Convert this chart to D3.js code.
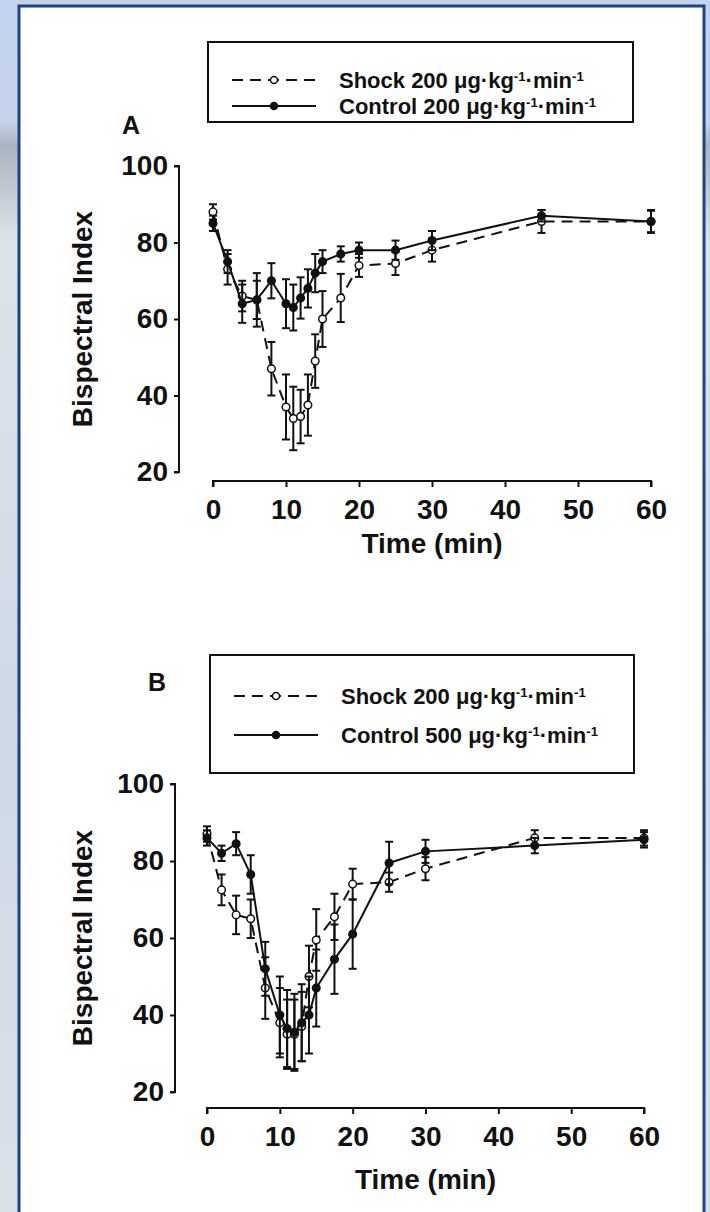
<!DOCTYPE HTML>
<html>
<head>
<meta charset="UTF8">
<title>Bispectral Index</title>
<script src="https://d3js.org/d3.v7.min.js"></script>
<style>
  body { margin: 0; padding: 0; background: #ffffff; }
  svg { display: block; }
  text { font-family: "Liberation Sans", Arial, sans-serif; fill: #111; }
</style>
</head>
<body>
<svg id="chart"></svg>
<script>
// time points (min), shared by both panels
const times = [0, 2, 4, 6, 8, 10, 11, 12, 13, 14, 15, 17.5, 20, 25, 30, 45, 60];
const xTicks = [0, 10, 20, 30, 40, 50, 60];
const yTicks = [20, 40, 60, 80, 100];

// panel A
const shockA    = [88, 73, 66, 65, 47, 37, 34, 34.5, 37.5, 49, 60, 65.5, 74, 74.5, 78, 85.5, 85.5];
const shockAErr = [2, 4, 4, 7, 7, 8.5, 8.3, 7, 8, 7, 7.3, 6.3, 3, 3, 3, 3, 3];
const ctrlA     = [85, 75, 64, 65, 70, 64, 63, 65.5, 68, 72, 75, 77, 78, 78, 80.5, 87, 85.5];
const ctrlAErr  = [2, 3, 5, 5, 4.6, 6.4, 6, 5.4, 5, 5, 3, 2, 2, 2.5, 2.5, 1.5, 2.8];

// panel B
const shockB    = [87, 72.5, 66, 65, 47, 38, 35, 35, 37, 50, 59.5, 65.5, 74, 74.5, 78, 86, 86];
const shockBErr = [2, 4, 5, 5, 8, 9, 9, 9, 9, 8, 8, 6, 4, 2.5, 3, 2, 2];
const ctrlB     = [86, 82, 84.5, 76.5, 52, 40, 36.5, 35.5, 38, 40, 47, 54.5, 61, 79.5, 82.5, 84, 85.5];
const ctrlBErr  = [2, 2, 3, 5, 7, 10, 10, 10, 10, 10, 10, 9, 9, 5.5, 3, 2, 2];

const W = 710, H = 1212;
const svg = d3.select("#chart").attr("width", W).attr("height", H);

// backdrop + framed white panel
const defs = svg.append("defs");
const grad = defs.append("linearGradient").attr("id", "bg").attr("x1", 0).attr("y1", 0).attr("x2", 0).attr("y2", 1);
grad.append("stop").attr("offset", "0").attr("stop-color", "#c3d3ee");
grad.append("stop").attr("offset", "0.10").attr("stop-color", "#c6d4ea");
grad.append("stop").attr("offset", "0.12").attr("stop-color", "#aab4c0");
grad.append("stop").attr("offset", "0.2").attr("stop-color", "#dde3ea");
grad.append("stop").attr("offset", "0.6").attr("stop-color", "#cfd9e7");
grad.append("stop").attr("offset", "1").attr("stop-color", "#d9e0e8");
svg.append("rect").attr("width", W).attr("height", H).attr("fill", "url(#bg)");
svg.append("rect").attr("x", 19).attr("y", 6).attr("width", 685).attr("height", H + 10)
  .attr("fill", "#ffffff").attr("stroke", "#1d4480").attr("stroke-width", 3);

// text with "-1" superscripts
function supText(sel, base) {
  sel.append("tspan").text(base + "\u03bcg\u00b7kg");
  sel.append("tspan").attr("dy", -7).attr("font-size", "0.6em").text("-1");
  sel.append("tspan").attr("dy", 7).text("\u00b7min");
  sel.append("tspan").attr("dy", -7).attr("font-size", "0.6em").text("-1");
}

function drawPanel(cfg) {
  const g = svg.append("g");
  const x = d3.scaleLinear().domain([0, 60]).range([cfg.x0, cfg.x1]);
  const y = d3.scaleLinear().domain([20, 100]).range([cfg.y20, cfg.y100]);

  // y axis
  const yAxis = g.append("g").attr("transform", `translate(${cfg.yAxisX},0)`)
    .call(d3.axisLeft(y).tickValues(yTicks).tickSize(5).tickPadding(6));
  yAxis.select(".domain").attr("stroke", "#111").attr("stroke-width", 2).attr("d", `M-5,${cfg.y100}H0V${cfg.y20}H-5`);
  yAxis.selectAll(".tick line").attr("stroke", "#111").attr("stroke-width", 2);
  yAxis.selectAll("text").attr("font-size", 28).attr("font-weight", "bold").attr("fill", "#111");

  // x axis
  const xAxis = g.append("g").attr("transform", `translate(0,${cfg.xAxisY})`)
    .call(d3.axisBottom(x).tickValues(xTicks).tickSize(6).tickPadding(12));
  xAxis.select(".domain").attr("stroke", "#111").attr("stroke-width", 2).attr("d", `M${cfg.x0},6V0H${cfg.x1}V6`);
  xAxis.selectAll(".tick line").attr("stroke", "#111").attr("stroke-width", 2);
  xAxis.selectAll("text").attr("font-size", 28).attr("font-weight", "bold").attr("fill", "#111");

  g.append("text").attr("x", (cfg.x0 + cfg.x1) / 2).attr("y", cfg.xTitleY)
    .attr("text-anchor", "middle").attr("font-size", 28).attr("font-weight", "bold").text("Time (min)");
  g.append("text").attr("transform", `translate(${cfg.yTitleX},${(cfg.y20 + cfg.y100) / 2}) rotate(-90)`)
    .attr("text-anchor", "middle").attr("font-size", 28).attr("font-weight", "bold").text("Bispectral Index");

  g.append("text").attr("x", cfg.letterX).attr("y", cfg.letterY).attr("text-anchor", "middle")
    .attr("font-size", 25).attr("font-weight", "bold").text(cfg.letter);

  // legend
  const L = cfg.legend;
  g.append("rect").attr("x", L.x).attr("y", L.y).attr("width", L.w).attr("height", L.h)
    .attr("fill", "none").attr("stroke", "#111").attr("stroke-width", 2);
  const rows = [
    { label: "Shock 200 ", dash: "11,7", open: true },
    { label: cfg.ctrlLabel, dash: null, open: false }
  ];
  rows.forEach((r, i) => {
    const ry = L.rowY[i];
    g.append("line").attr("x1", L.x + 24).attr("x2", L.x + 108).attr("y1", ry).attr("y2", ry)
      .attr("stroke", "#111").attr("stroke-width", 2).attr("stroke-dasharray", r.dash);
    g.append("circle").attr("cx", L.x + 66).attr("cy", ry).attr("r", 3.5)
      .attr("fill", r.open ? "#fff" : "#111").attr("stroke", "#111").attr("stroke-width", 1.5);
    const t = g.append("text").attr("x", L.x + 131).attr("y", ry + 8).attr("font-size", 22).attr("font-weight", "bold");
    supText(t, r.label);
  });

  // series
  const series = [
    { v: cfg.shock, e: cfg.shockErr, dash: "11,7", open: true },
    { v: cfg.ctrl, e: cfg.ctrlErr, dash: null, open: false }
  ];
  series.forEach(s => {
    const pts = times.map((t, i) => ({ t, v: s.v[i], e: s.e[i] }));
    const eb = g.append("g");
    pts.forEach(p => {
      eb.append("line").attr("x1", x(p.t)).attr("x2", x(p.t)).attr("y1", y(p.v - p.e)).attr("y2", y(p.v + p.e))
        .attr("stroke", "#111").attr("stroke-width", 2);
      [p.v - p.e, p.v + p.e].forEach(c => {
        eb.append("line").attr("x1", x(p.t) - 4).attr("x2", x(p.t) + 4).attr("y1", y(c)).attr("y2", y(c))
          .attr("stroke", "#111").attr("stroke-width", 2);
      });
    });
    g.append("path").datum(pts)
      .attr("d", d3.line().x(d => x(d.t)).y(d => y(d.v)))
      .attr("fill", "none").attr("stroke", "#111").attr("stroke-width", 2).attr("stroke-dasharray", s.dash);
    g.append("g").selectAll("circle").data(pts).join("circle")
      .attr("cx", d => x(d.t)).attr("cy", d => y(d.v)).attr("r", 3.8)
      .attr("fill", s.open ? "#fff" : "#111").attr("stroke", "#111").attr("stroke-width", 1.5);
  });
}

drawPanel({
  letter: "A", letterX: 131, letterY: 134,
  x0: 213, x1: 651, xAxisY: 481, y20: 472, y100: 166, yAxisX: 179,
  xTitleY: 553, yTitleX: 92,
  legend: { x: 208, y: 42, w: 425, h: 80, rowY: [80, 106] },
  ctrlLabel: "Control 200 ",
  shock: shockA, shockErr: shockAErr, ctrl: ctrlA, ctrlErr: ctrlAErr
});

drawPanel({
  letter: "B", letterX: 157, letterY: 691,
  x0: 207, x1: 644, xAxisY: 1108, y20: 1092, y100: 784, yAxisX: 175,
  xTitleY: 1189, yTitleX: 92,
  legend: { x: 210, y: 655, w: 424, h: 118, rowY: [696, 735] },
  ctrlLabel: "Control 500 ",
  shock: shockB, shockErr: shockBErr, ctrl: ctrlB, ctrlErr: ctrlBErr
});
</script>
</body>
</html>
